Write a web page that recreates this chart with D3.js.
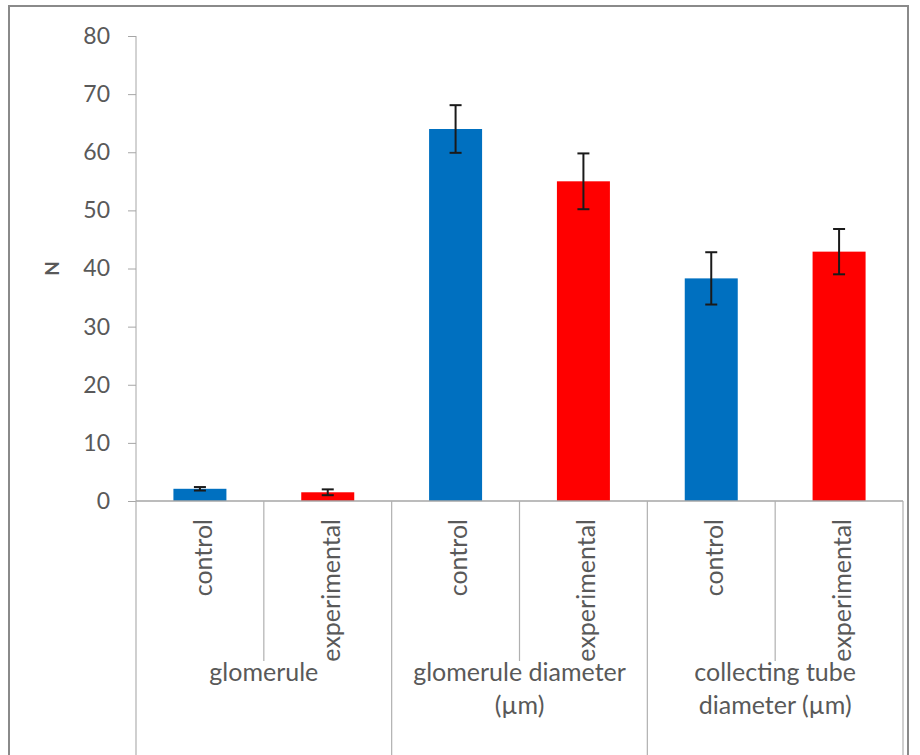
<!DOCTYPE html>
<html><head><meta charset="utf-8">
<script src="https://cdn.jsdelivr.net/npm/d3@7"></script>
<style>body{margin:0;background:#fff}svg{display:block}text{font-family:Lato,"Open Sans",sans-serif;fill:#595959}</style>
</head><body>
<script>
const groups = ["glomerule", "glomerule diameter|(µm)", "collecting tube|diameter (µm)"];
const subLabels = ["control", "experimental"];
const means = [2.1, 1.5, 64, 55, 38.3, 42.9];
const errors = [0.3, 0.5, 4.1, 4.8, 4.5, 3.9];
const yTicks = [0, 10, 20, 30, 40, 50, 60, 70, 80];
const colors = ["#0070C0", "#FF0000"];

const W = 920, H = 755;
const svg = d3.select("body").append("svg").attr("width", W).attr("height", H);
svg.append("rect").attr("x", 9).attr("y", 6).attr("width", 899).attr("height", 760)
  .attr("fill", "#fff").attr("stroke", "#8a8a8a").attr("stroke-width", 2);

const x0 = 136, x1 = 903, yTop = 36, yBase = 501;
const slots = d3.range(6);
const x = d3.scaleBand().domain(slots).range([x0, x1]).paddingInner(0).paddingOuter(0);
const y = d3.scaleLinear().domain([0, 80]).range([yBase, yTop]);

// y axis
const yAxis = svg.append("g").attr("transform", `translate(${x0},0)`)
  .call(d3.axisLeft(y).tickValues(yTicks).tickSize(8).tickPadding(18));
yAxis.select(".domain").attr("stroke", "#a6a6a6").attr("d", `M0,${yTop}V${yBase}`);
yAxis.selectAll(".tick line").attr("stroke", "#a6a6a6");
yAxis.selectAll(".tick text").style("font-size", "23px").attr("fill", "#595959").style("font-family", "Lato");

svg.append("text").attr("transform", `translate(52,${y(40)}) rotate(-90)`)
  .attr("text-anchor", "middle").attr("dy", "0.35em")
  .style("font-size", "19px").style("font-weight", "bold").attr("fill", "#404040").text("N");

// bars
const bw = 53;
svg.selectAll("rect.bar").data(means).join("rect").attr("class", "bar")
  .attr("x", (d, i) => x(i) + x.bandwidth() / 2 - bw / 2)
  .attr("width", bw)
  .attr("y", d => y(d)).attr("height", d => y(0) - y(d))
  .attr("fill", (d, i) => colors[i % 2]);

// error bars
const eb = svg.append("g").attr("stroke", "#1a1a1a").attr("stroke-width", 2);
means.forEach((m, i) => {
  const cx = x(i) + x.bandwidth() / 2;
  eb.append("line").attr("x1", cx).attr("x2", cx).attr("y1", y(m + errors[i])).attr("y2", y(m - errors[i]));
  eb.append("line").attr("x1", cx - 6).attr("x2", cx + 6).attr("y1", y(m + errors[i])).attr("y2", y(m + errors[i]));
  eb.append("line").attr("x1", cx - 6).attr("x2", cx + 6).attr("y1", y(m - errors[i])).attr("y2", y(m - errors[i]));
});

// x axis line
svg.append("line").attr("x1", x0).attr("x2", x1).attr("y1", yBase).attr("y2", yBase)
  .attr("stroke", "#a6a6a6").attr("stroke-width", 1.5);

// separators
const sepG = svg.append("g").attr("stroke", "#b0b0b0").attr("stroke-width", 1.2);
d3.range(7).forEach(k => {
  const xx = k === 6 ? x1 : x(k);
  const major = k % 2 === 0;
  sepG.append("line").attr("x1", xx).attr("x2", xx).attr("y1", yBase).attr("y2", major ? 755 : 661);
});

// sub labels
slots.forEach(i => {
  const cx = x(i) + x.bandwidth() / 2 + 3;
  svg.append("text").attr("transform", `translate(${cx},519) rotate(-90)`)
    .attr("text-anchor", "end").attr("dy", "0.35em")
    .style("font-size", "25px").text(subLabels[i % 2]);
});

// group labels
groups.forEach((g, gi) => {
  const cx = x(gi * 2 + 1);
  g.split("|").forEach((line, li) => {
    svg.append("text").attr("x", cx).attr("y", 681 + li * 33)
      .attr("text-anchor", "middle").style("font-size", "25px").text(line);
  });
});
</script>
</body></html>
